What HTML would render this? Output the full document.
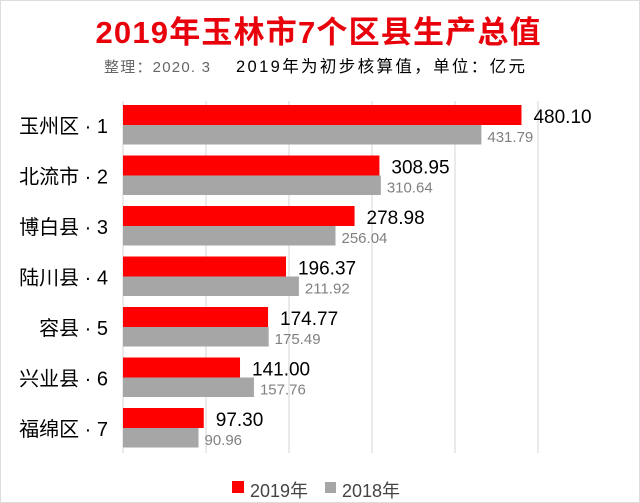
<!DOCTYPE html>
<html><head><meta charset="utf-8"><style>
body{margin:0;background:#fff;}
#wrap{position:relative;width:640px;height:503px;overflow:hidden;background:#fff;font-family:"Liberation Sans","Noto Sans CJK SC",sans-serif;}
</style></head><body>
<div id="wrap">
<svg id="svg" width="640" height="503" xmlns="http://www.w3.org/2000/svg">
<rect x="0.5" y="0.5" width="639" height="502" fill="none" stroke="#ddd"/>
<text x="318" y="43" text-anchor="middle" font-size="31" font-weight="bold" fill="#e8000b" font-family="Liberation Sans, Noto Sans CJK SC, sans-serif" textLength="445">2019年玉林市7个区县生产总值</text>
<text x="104" y="72" font-size="15" fill="#666" font-family="Liberation Sans, Noto Sans CJK SC, sans-serif" textLength="106">整理：2020. 3</text>
<text x="236" y="72" font-size="16.5" fill="#000" font-family="Liberation Sans, Noto Sans CJK SC, sans-serif" textLength="289">2019年为初步核算值，单位：亿元</text>
<g id="plot"></g>
<rect x="232" y="481" width="12" height="12" fill="#ff0000"/>
<text x="250" y="497" font-size="18" fill="#444" font-family="Liberation Sans, Noto Sans CJK SC, sans-serif">2019年</text>
<rect x="325" y="482" width="11" height="11" fill="#a6a6a6"/>
<text x="342" y="497" font-size="18" fill="#444" font-family="Liberation Sans, Noto Sans CJK SC, sans-serif">2018年</text>
</svg>
</div>
<script>
const categories=["玉州区 · 1","北流市 · 2","博白县 · 3","陆川县 · 4","容县 · 5","兴业县 · 6","福绵区 · 7"];
const values2019=[480.10,308.95,278.98,196.37,174.77,141.00,97.30];
const values2018=[431.79,310.64,256.04,211.92,175.49,157.76,90.96];
const gridTicks=[0,100,200,300,400,500];
const NS="http://www.w3.org/2000/svg";
const g=document.getElementById('plot');
const x0=123,scale=0.83,top0=101,rowH=50.5,plotBottom=453;
const xs=v=>x0+v*scale;
function mk(tag,attrs){const e=document.createElementNS(NS,tag);for(const k in attrs)e.setAttribute(k,attrs[k]);g.appendChild(e);return e;}
gridTicks.forEach((t,i)=>{
  const l=mk('line',{x1:xs(t),x2:xs(t),y1:top0,y2:plotBottom,stroke:'#e3e3e3','stroke-width':1.5});
  
  
});
categories.forEach((c,i)=>{
  const y=top0+4+i*rowH;
  const lab=mk('text',{x:108,y:y+28,'text-anchor':'end','font-size':20,fill:'#000','font-family':'Liberation Sans, Noto Sans CJK SC, sans-serif'});
  lab.textContent=c;
  
  
  const r=mk('rect',{x:x0,y:y,width:values2019[i]*scale,height:20,fill:'#ff0000'});
  
  
  const r2=mk('rect',{x:x0,y:y+20,width:values2018[i]*scale,height:19.5,fill:'#a6a6a6'});
  
  
  const t1=mk('text',{x:xs(values2019[i])+12,y:y+18,'font-size':19,fill:'#000','font-family':'Liberation Sans, sans-serif'});
  t1.textContent=values2019[i].toFixed(2);
  
  
  const t2=mk('text',{x:xs(values2018[i])+6,y:y+37,'font-size':15,fill:'#808080','font-family':'Liberation Sans, sans-serif'});
  t2.textContent=values2018[i].toFixed(2);
  
  
});
</script>
</body></html>
